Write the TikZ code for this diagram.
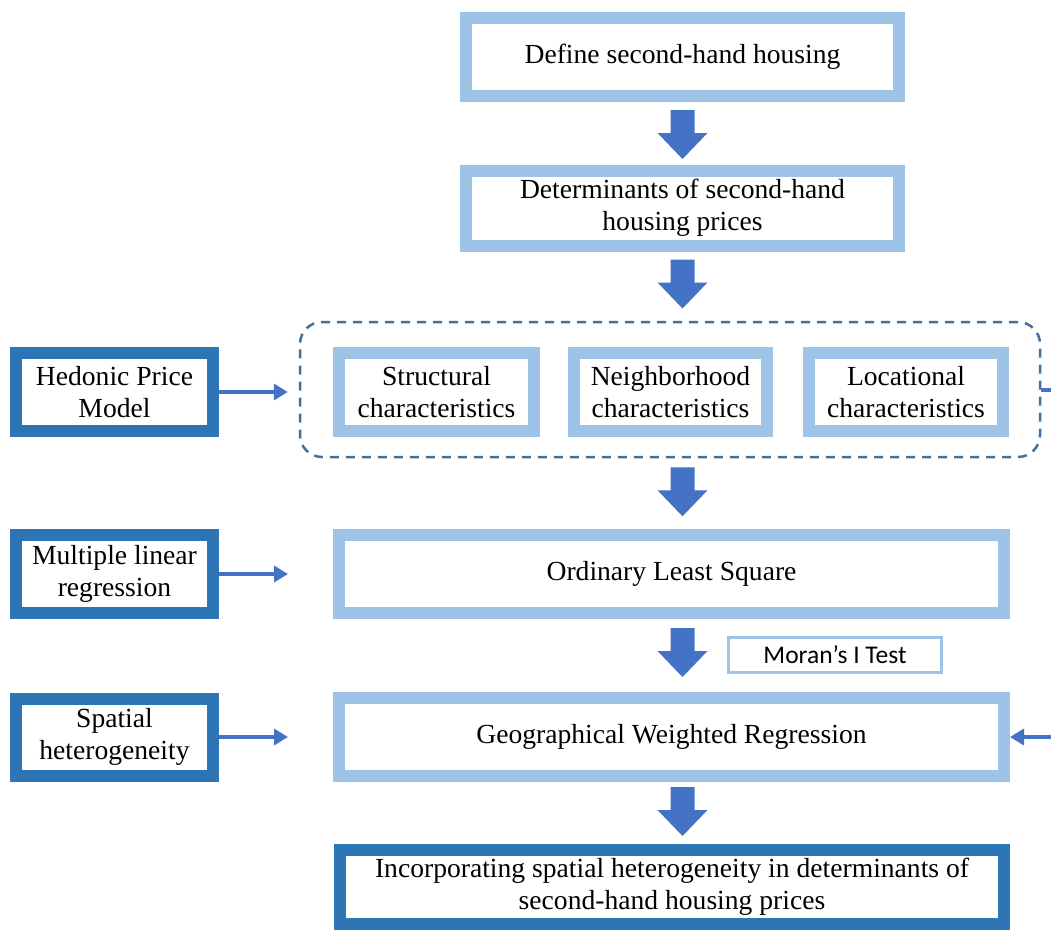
\documentclass[tikz,border=0pt]{standalone}
\usepackage{fontspec}
\setmainfont{Liberation Serif}
\newfontfamily\calibri{Carlito}
\usepackage{xcolor}
\usetikzlibrary{calc,arrows.meta}
\definecolor{lightblue}{HTML}{9DC3E6}
\definecolor{darkblue}{HTML}{2E75B6}
\definecolor{arrowblue}{HTML}{4472C4}
\definecolor{dashblue}{HTML}{41719C}

\begin{document}
\begin{tikzpicture}[x=1pt,y=-1pt,
    lightbox/.style={draw=lightblue,line width=12pt,fill=white,align=center,inner sep=0pt,font=\fontsize{27.6}{32}\selectfont},
    darkbox/.style={lightbox,draw=darkblue},
    link/.style={draw=arrowblue,line width=4pt,-{Triangle[length=14pt,width=16pt]}},
    downarr/.pic={\fill[arrowblue] (-12,0) -- (12,0) -- (12,23) -- (25,23) -- (0,49) -- (-25,23) -- (-12,23) -- cycle;}]
    \useasboundingbox (0,0) rectangle (1051,929);
    \clip (0,0) rectangle (1051,929);

    % main column
    \node[lightbox,minimum width=433pt,minimum height=78pt] (def) at (682.5,57) {Define second-hand housing};
    \node[lightbox,minimum width=433pt,minimum height=75pt] (det) at (682.5,208) {Determinants of second-hand\\housing prices};

    \node[draw=dashblue,line width=2.5pt,dash pattern=on 9pt off 7pt,rounded corners=22pt,
          minimum width=740pt,minimum height=135pt,inner sep=0pt] (grp) at (670,389.5) {};
    \node[lightbox,minimum width=195pt,minimum height=78pt] (str) at (436.5,392) {Structural\\characteristics};
    \node[lightbox,minimum width=193pt,minimum height=78pt] (nei) at (670.5,392) {Neighborhood\\characteristics};
    \node[lightbox,minimum width=194pt,minimum height=78pt] (loc) at (906,392) {Locational\\characteristics};

    \node[lightbox,minimum width=665pt,minimum height=78pt] (ols) at (671.5,574) {Ordinary Least Square};
    \node[draw=lightblue,line width=3pt,minimum width=213pt,minimum height=35pt,inner sep=0pt,
          font=\calibri\fontsize{25.5}{28}\selectfont] (mor) at (835,655) {Moran’s I Test};
    \node[lightbox,minimum width=665pt,minimum height=78pt] (gwr) at (671.5,737) {Geographical Weighted Regression};
    \node[darkbox,minimum width=664pt,minimum height=74pt] (fin) at (672,887) {Incorporating spatial heterogeneity in determinants of\\second-hand housing prices};

    % left column
    \node[darkbox,minimum width=197pt,minimum height=78pt] (hed) at (114.5,392) {Hedonic Price\\Model};
    \node[darkbox,minimum width=197pt,minimum height=78pt] (mlr) at (114.5,574) {Multiple linear\\regression};
    \node[darkbox,minimum width=197pt,minimum height=77pt] (sph) at (114.5,737) {Spatial\\heterogeneity};

    % block arrows
    \pic at ($(def.south)+(0,8)$) {downarr};
    \pic at ($(det.south)+(0,8)$) {downarr};
    \pic at ($(def.south |- grp.south)+(0,9)$) {downarr};
    \pic at ($(def.south |- ols.south)+(0,9)$) {downarr};
    \pic at ($(def.south |- gwr.south)+(0,5)$) {downarr};

    % side links
    \draw[link] (hed.east) -- ([xshift=-11pt]grp.west |- hed.east);
    \draw[link] (mlr.east) -- ([xshift=-45pt]ols.west |- mlr.east);
    \draw[link] (sph.east) -- ([xshift=-45pt]gwr.west |- sph.east);
    \draw[link] (grp.east) -- ++(40,0) |- (gwr.east);
\end{tikzpicture}
\end{document}
